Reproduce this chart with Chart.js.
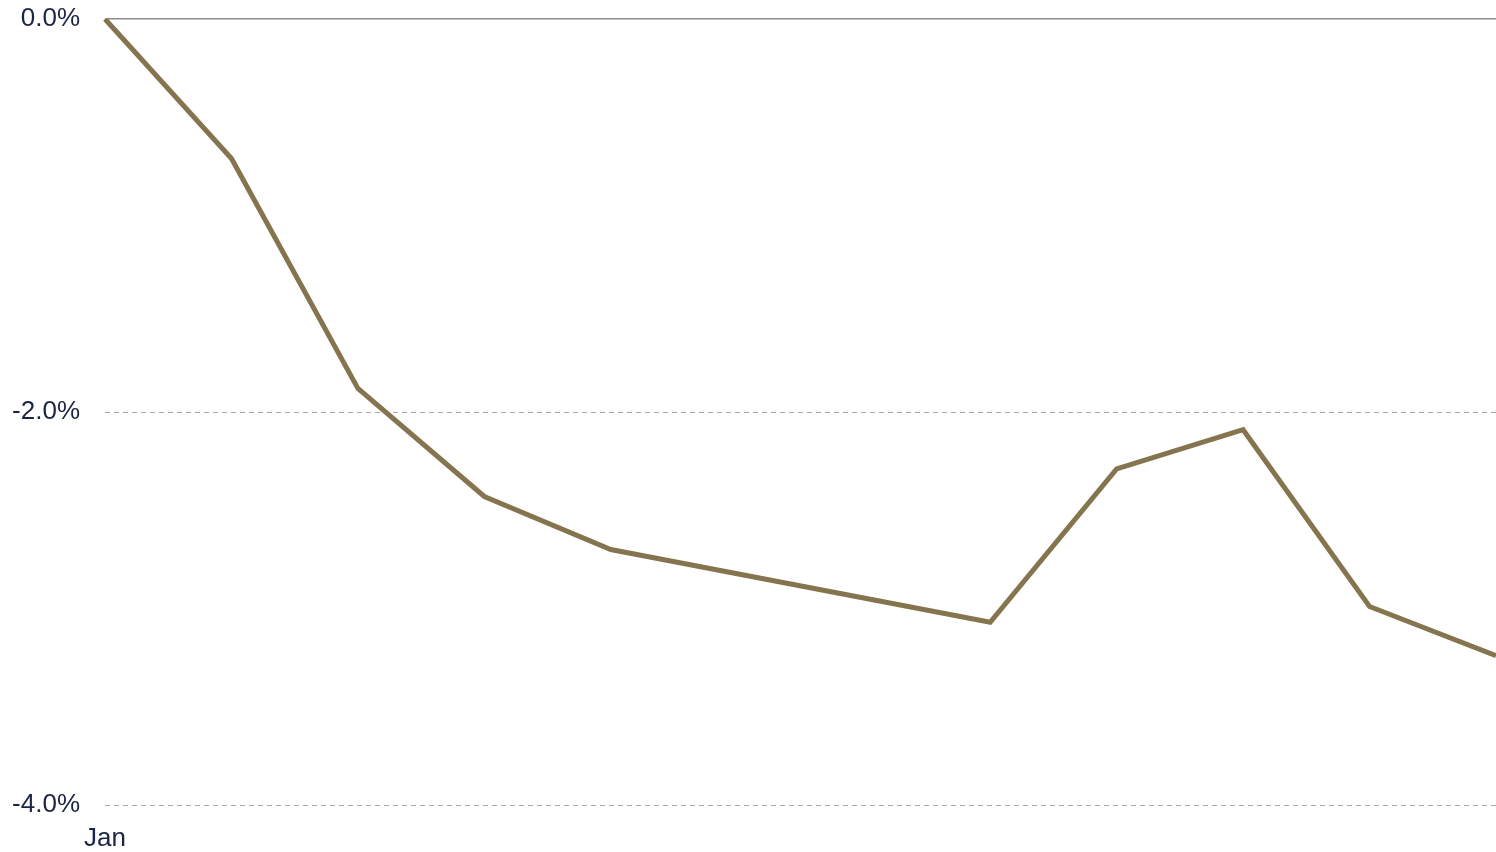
<!DOCTYPE html>
<html>
<head>
<meta charset="utf-8">
<script src="https://cdn.jsdelivr.net/npm/chart.js@4"></script>
<style>
html,body{margin:0;padding:0;background:#fff;overflow:hidden;}
#wrap{width:1496px;height:852px;position:relative;}
</style>
</head>
<body>
<div id="wrap"><canvas id="c"></canvas></div>
<script>
const months = ['Jan','Feb','Mar','Apr','May','Jun','Jul','Aug','Sep','Oct','Nov','Dec'];
const values = [0.0, -0.71, -1.88, -2.43, -2.70, null, null, -3.07, -2.29, -2.09, -2.99, -3.24];
const yTicks = [0, -2, -4];
const shownLabels = ['Jan'];

new Chart(document.getElementById('c'), {
  type: 'line',
  data: {
    labels: months,
    datasets: [{
      data: values,
      borderColor: '#85754E',
      borderWidth: 5,
      pointRadius: 0,
      tension: 0,
      spanGaps: true,
      fill: false
    }]
  },
  options: {
    responsive: true,
    maintainAspectRatio: false,
    animation: false,
    layout: { padding: { top: 19, right: 0, left: 0, bottom: 0 } },
    plugins: { legend: { display: false }, tooltip: { enabled: false } },
    scales: {
      x: {
        offset: false,
        grid: { display: false, drawTicks: false },
        border: { display: false },
        afterFit: function(s) { s.paddingLeft = 0; s.paddingRight = 0; s.height = 47; },
        ticks: {
          autoSkip: false,
          maxRotation: 0,
          padding: 18,
          color: '#1B2444',
          font: { family: 'Liberation Sans, Arial, sans-serif', size: 26 },
          callback: function(v, i) { const l = months[i]; return shownLabels.includes(l) ? l : ''; }
        }
      },
      y: {
        min: -4, max: 0,
        afterBuildTicks: function(axis) { axis.ticks = yTicks.map(v => ({ value: v })); },
        afterFit: function(s) { s.width = 105; s.paddingTop = 0; s.paddingBottom = 0; },
        grid: {
          drawTicks: false,
          color: function(ctx) { return ctx.tick && ctx.tick.value === 0 ? '#8C8C8C' : '#A8A8A8'; },
          lineWidth: function(ctx) { return ctx.tick && ctx.tick.value === 0 ? 1.5 : 1; }
        },
        border: { display: false, dash: function(ctx) { return ctx.tick && ctx.tick.value === 0 ? [] : [5, 4]; } },
        ticks: {
          padding: 25,
          color: '#1B2444',
          font: { family: 'Liberation Sans, Arial, sans-serif', size: 26 },
          callback: function(v) { return v.toFixed(1) + '%'; }
        }
      }
    }
  }
});
</script>
</body>
</html>
